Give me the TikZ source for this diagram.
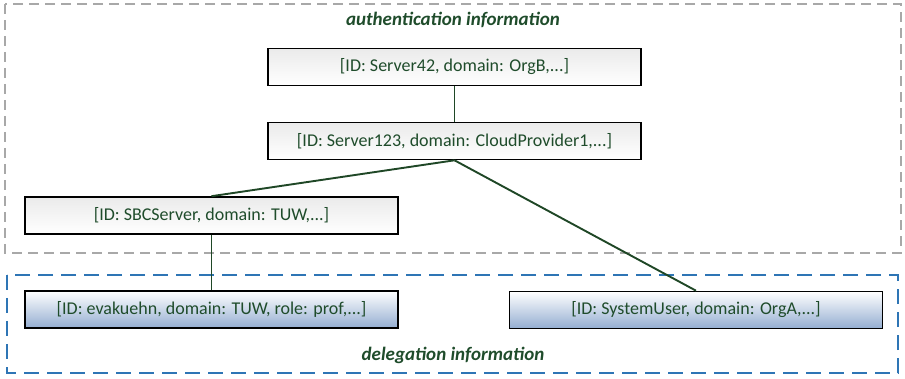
\documentclass[tikz,border=0pt]{standalone}
\usepackage{fontspec}
\setmainfont{Carlito}
\usepackage{tikz}
\usetikzlibrary{positioning}
\definecolor{dgreen}{rgb}{0.12, 0.30, 0.17}
\definecolor{lgreen}{rgb}{0.12, 0.28, 0.15}
\definecolor{mgray}{rgb}{0.66, 0.66, 0.66}
\definecolor{mblue}{rgb}{0.18, 0.46, 0.71}
\definecolor{sblue}{rgb}{0.58, 0.68, 0.82}
\tikzset{idbox/.style = {draw = black, line width = 1.6pt, minimum width = 373pt, minimum height = 37pt, inner sep = 0, text = dgreen, font = \fontsize{18}{21}\selectfont}}
\tikzset{authbox/.style = {idbox, top color = black!8, bottom color = white}}
\tikzset{delbox/.style = {idbox, top color = white, bottom color = sblue}}
\tikzset{link/.style = {draw = lgreen, line width = 1.9pt}}
\tikzset{area/.style = {line width = 1.5pt}}
\tikzset{arealabel/.style = {text = dgreen, font = \fontsize{19}{22}\selectfont\bfseries\itshape}}

\begin{document}
\begin{tikzpicture}[x = 1pt, y = -1pt]
      \useasboundingbox (0, 0) rectangle (905, 379);
      \draw [area, draw = mgray, dash pattern = on 10pt off 6pt] (5, 4) rectangle (901, 253);
      \draw [area, draw = mblue, dash pattern = on 15pt off 8pt] (7, 275) rectangle (898, 373);
      \node [arealabel] (authlabel) at (453, 20) {authentication information};
      \node [arealabel] (dellabel) at (453, 355) {delegation information};
      \node [authbox] (server42) at (454.5, 67) {[ID: Server42, domain: OrgB,...]};
      \node [authbox] (server123) at (454.5, 141) {[ID: Server123, domain: CloudProvider1,...]};
      \node [authbox] (sbcserver) at (211.5, 215.5) {[ID: SBCServer, domain: TUW,...]};
      \node [delbox] (evakuehn) at (211.5, 309.5) {[ID: evakuehn, domain: TUW, role: prof,...]};
      \node [delbox] (systemuser) at (696, 310) {[ID: SystemUser, domain: OrgA,...]};
      \draw [link] (server42) -- (server123);
      \draw [link] (server123.south) -- (sbcserver.north);
      \draw [link] (server123.south) -- (systemuser.north);
      \draw [link] (sbcserver) -- (evakuehn);
    \end{tikzpicture}
\end{document}
